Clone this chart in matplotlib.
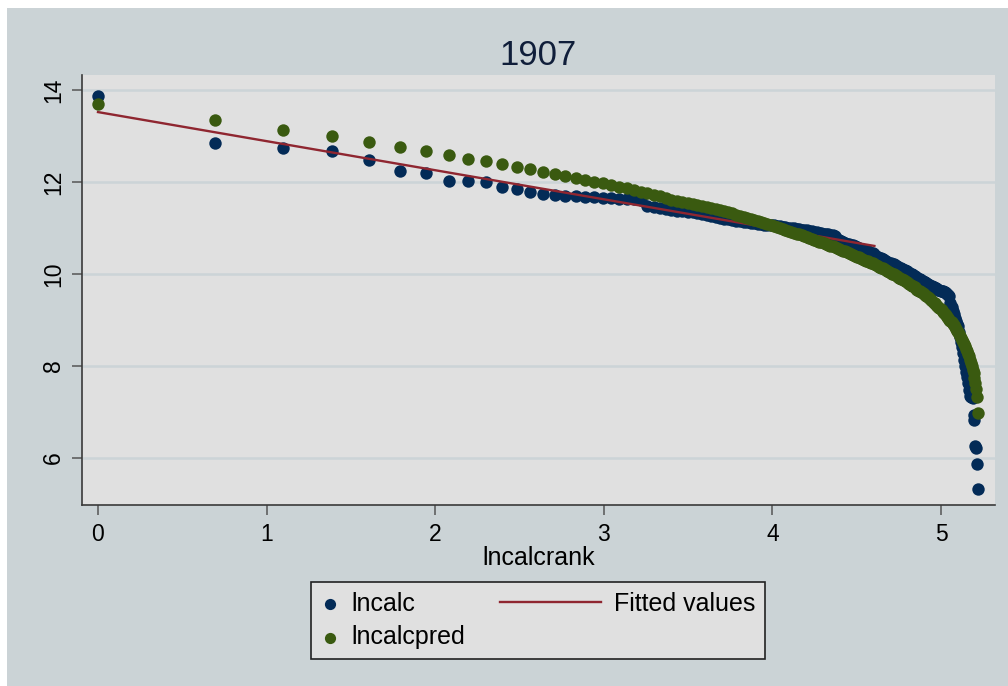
import numpy as np
import matplotlib
matplotlib.use("Agg")
import matplotlib.pyplot as plt
from matplotlib.patches import Rectangle
from matplotlib.lines import Line2D
from matplotlib.legend_handler import HandlerLine2D

plt.rcParams['font.family'] = ['Liberation Sans', 'DejaVu Sans']

title = "1907"
xlabel = "lncalcrank"
x_ticks = [0, 1, 2, 3, 4, 5]
y_ticks = [6, 8, 10, 12, 14]

# rank of each observation (x axis is ln(rank))
rank = np.arange(1, 186)

lncalc = [
    13.86, 12.84, 12.75, 12.67, 12.48, 12.25, 12.20, 12.03, 12.03, 12.01,
    11.90, 11.85, 11.78, 11.75, 11.72, 11.70, 11.69, 11.68, 11.67, 11.66,
    11.65, 11.64, 11.63, 11.62, 11.61, 11.47, 11.45, 11.43, 11.42, 11.40,
    11.38, 11.36, 11.35, 11.34, 11.32, 11.30, 11.28, 11.26, 11.24, 11.21,
    11.20, 11.19, 11.18, 11.16, 11.15, 11.13, 11.12, 11.11, 11.10, 11.09,
    11.08, 11.07, 11.07, 11.06, 11.06, 11.05, 11.04, 11.03, 11.02, 11.01,
    11.00, 10.99, 10.98, 10.97, 10.96, 10.95, 10.95, 10.94, 10.93, 10.92,
    10.91, 10.90, 10.89, 10.88, 10.87, 10.86, 10.85, 10.84, 10.82, 10.77,
    10.74, 10.72, 10.70, 10.68, 10.66, 10.65, 10.63, 10.62, 10.60, 10.58,
    10.57, 10.55, 10.54, 10.52, 10.51, 10.49, 10.48, 10.46, 10.45, 10.43,
    10.40, 10.37, 10.35, 10.34, 10.32, 10.31, 10.29, 10.27, 10.25, 10.24,
    10.22, 10.21, 10.19, 10.18, 10.16, 10.14, 10.13, 10.11, 10.09, 10.08,
    10.06, 10.04, 10.02, 10.00, 9.99, 9.97, 9.96, 9.94, 9.92, 9.90,
    9.89, 9.87, 9.85, 9.83, 9.82, 9.80, 9.79, 9.77, 9.75, 9.74,
    9.73, 9.71, 9.70, 9.69, 9.68, 9.66, 9.65, 9.64, 9.63, 9.62,
    9.61, 9.60, 9.58, 9.56, 9.55, 9.53, 9.38, 9.28, 9.20, 9.12,
    9.05, 8.98, 8.92, 8.86, 8.75, 8.62, 8.52, 8.42, 8.28, 8.14,
    8.00, 7.88, 7.77, 7.62, 7.48, 7.35, 7.33, 7.32, 7.30, 6.93,
    6.83, 6.27, 6.22, 5.87, 5.32,
]

lncalcpred = [
    13.69, 13.35, 13.14, 13.00, 12.88, 12.77, 12.68, 12.59, 12.51, 12.46,
    12.39, 12.32, 12.28, 12.22, 12.17, 12.13, 12.08, 12.04, 12.01, 11.98,
    11.94, 11.90, 11.86, 11.82, 11.79, 11.76, 11.72, 11.69, 11.65, 11.61,
    11.59, 11.57, 11.55, 11.52, 11.50, 11.48, 11.46, 11.44, 11.41, 11.39,
    11.37, 11.34, 11.32, 11.29, 11.27, 11.25, 11.22, 11.20, 11.17, 11.15,
    11.13, 11.11, 11.09, 11.07, 11.05, 11.03, 11.01, 10.98, 10.96, 10.94,
    10.92, 10.90, 10.88, 10.86, 10.84, 10.82, 10.80, 10.78, 10.76, 10.74,
    10.72, 10.70, 10.69, 10.67, 10.65, 10.63, 10.61, 10.60, 10.58, 10.56,
    10.54, 10.52, 10.51, 10.49, 10.47, 10.45, 10.43, 10.42, 10.40, 10.38,
    10.36, 10.35, 10.33, 10.31, 10.29, 10.28, 10.26, 10.24, 10.23, 10.21,
    10.19, 10.17, 10.16, 10.14, 10.12, 10.10, 10.08, 10.07, 10.05, 10.03,
    10.01, 9.99, 9.98, 9.96, 9.94, 9.92, 9.90, 9.89, 9.87, 9.85,
    9.83, 9.81, 9.79, 9.77, 9.75, 9.73, 9.71, 9.68, 9.66, 9.64,
    9.62, 9.60, 9.58, 9.56, 9.54, 9.52, 9.49, 9.47, 9.45, 9.43,
    9.41, 9.38, 9.36, 9.33, 9.31, 9.28, 9.26, 9.23, 9.21, 9.18,
    9.15, 9.12, 9.10, 9.07, 9.04, 9.01, 8.98, 8.95, 8.92, 8.89,
    8.85, 8.81, 8.77, 8.73, 8.69, 8.65, 8.61, 8.57, 8.52, 8.48,
    8.43, 8.38, 8.32, 8.27, 8.21, 8.14, 8.07, 8.00, 7.92, 7.84,
    7.74, 7.63, 7.50, 7.32, 6.98,
]

# fitted values (linear fit of lncalc on lncalcrank, ranks 1-100)
fit_x = [0.0, 4.605]
fit_y = [13.52, 10.61]

BG = '#CBD3D6'
PLOT_BG = '#E0E0E0'
GRID = '#CCD4D7'
BLUE = '#032B57'
GREEN = '#3A5A10'
RED = '#8F2630'
TXT = '#101E3A'

W, H = 1008, 686
fig = plt.figure(figsize=(W / 100, H / 100), dpi=100, facecolor='white')
fig.add_artist(Rectangle((7 / W, 0), 1, (H - 8) / H, transform=fig.transFigure,
                         facecolor=BG, edgecolor='none', zorder=-10))

ax = fig.add_axes([82 / W, (H - 505) / H, (995 - 82) / W, (505 - 75) / H])
ax.set_facecolor(PLOT_BG)

xv = np.log(rank)
ax.scatter(xv, lncalc, s=80, color=BLUE, linewidths=0, zorder=3, label='lncalc')
ax.plot(fit_x, fit_y, color=RED, lw=1.7, zorder=4, label='Fitted values')
ax.scatter(xv, lncalcpred, s=80, color=GREEN, linewidths=0, zorder=5, label='lncalcpred')

ax.set_xlim((82 - 98) / 168.6, (995 - 98) / 168.6)
ax.set_ylim(14 - (505 - 90) / 46, 14 + (90 - 75) / 46)
ax.set_xticks(x_ticks)
ax.set_yticks(y_ticks)
ax.set_yticklabels([str(v) for v in y_ticks], rotation=90, va='center')

ax.yaxis.grid(True, color=GRID, lw=1.8, zorder=0)
ax.xaxis.grid(False)
ax.set_axisbelow(True)

for s in ['top', 'right']:
    ax.spines[s].set_visible(False)
for s in ['left', 'bottom']:
    ax.spines[s].set_color('#3A3A3A')
    ax.spines[s].set_linewidth(1.2)

ax.tick_params(axis='both', direction='out', length=7, width=1.1, color='#555555',
               labelsize=16.5, labelcolor='black')
ax.tick_params(axis='x', pad=6)
ax.tick_params(axis='y', pad=5)

ax.set_xlabel(xlabel, fontsize=18, labelpad=0, color='black')
ax.set_title(title, fontsize=25, color=TXT, pad=7)


class WideLine(HandlerLine2D):
    def create_artists(self, legend, orig_handle, xdescent, ydescent, width,
                       height, fontsize, trans):
        ext = 60
        y = (height - ydescent) / 2.0
        ln = Line2D([-xdescent - ext, -xdescent + width - 2], [y, y],
                    color=orig_handle.get_color(), lw=orig_handle.get_linewidth())
        ln.set_transform(trans)
        return [ln]


h, l = ax.get_legend_handles_labels()
order = [l.index('lncalc'), l.index('lncalcpred'), l.index('Fitted values')]
leg = fig.legend([h[i] for i in order], [l[i] for i in order],
                 loc='center', bbox_to_anchor=((306 + 770) / 2 / W, 1 - (582 + 659) / 2 / H),
                 ncol=2, fontsize=18, frameon=True, fancybox=False,
                 facecolor=PLOT_BG, edgecolor='#222222', framealpha=1,
                 handlelength=0.8, handletextpad=0.42, columnspacing=4.76,
                 labelspacing=0.38, borderpad=0.38, markerscale=0.9,
                 scatterpoints=1,
                 handler_map={Line2D: WideLine()})
leg.get_frame().set_linewidth(1.2)

fig.savefig('out.png', dpi=100, facecolor='white')
